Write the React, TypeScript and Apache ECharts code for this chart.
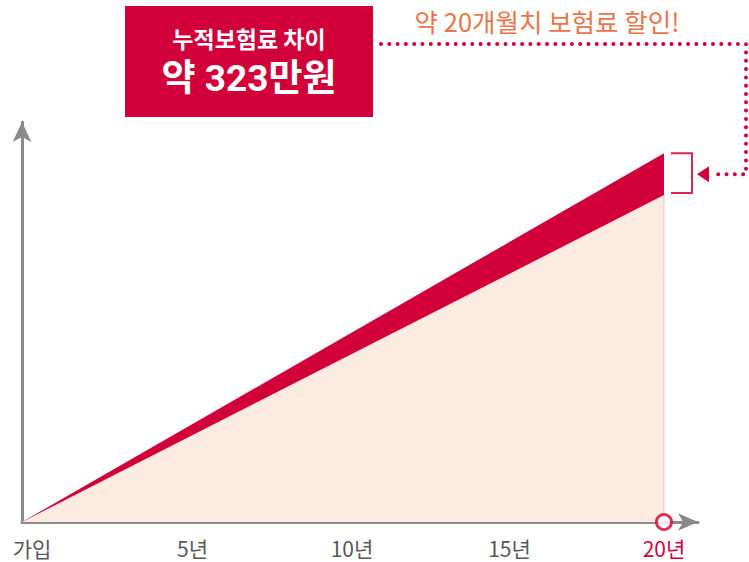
import React, { useEffect, useRef } from "react";
import * as echarts from "echarts";

const years = [0, 20];
const withoutDiscount = [0, 2840];
const withDiscount = [0, 2517];
const tickValues = [0, 5, 10, 15, 20];
const tickLabels = ["가입", "5년", "10년", "15년", "20년"];
const boxTitle = "누적보험료 차이";
const boxValue = "약 323만원";
const note = "약 20개월치 보험료 할인!";

const RED = "#D1003A";
const FONT = "Roboto, 'Noto Sans CJK KR', sans-serif";
const KFONT = "'Noto Sans CJK KR', Roboto, sans-serif";

export default function App() {
  const ref = useRef<HTMLDivElement>(null);
  useEffect(() => {
    if (!ref.current) return;
    const chart = echarts.init(ref.current, null, { renderer: "svg" });
    const richStyles: any = {};
    const pads = [20, 20, 18, 12, 0];
    tickLabels.forEach((_, i) => {
      richStyles["t" + i] = {
        fontSize: 21,
        fontFamily: KFONT,
        color: i === tickLabels.length - 1 ? RED : "#585858",
        padding: [0, 0, 0, pads[i]],
      };
    });
    chart.setOption({
      animation: false,
      grid: { left: 22, right: 51, top: 122, bottom: 40 },
      xAxis: {
        type: "value",
        min: 0,
        max: 21.06,
        interval: 5,
        splitLine: { show: false },
        axisTick: { show: false },
        axisLine: {
          lineStyle: { color: "#8a8a8a", width: 3 },
          symbol: ["none", "arrow"],
          symbolSize: [13, 20],
        },
        axisLabel: {
          showMaxLabel: false,
          margin: 15,
          formatter: (v: number) => {
            const i = tickValues.indexOf(v);
            return i >= 0 ? `{t${i}|${tickLabels[i]}}` : "";
          },
          rich: richStyles,
        },
      },
      yAxis: {
        type: "value",
        min: 0,
        max: 3080,
        splitLine: { show: false },
        axisTick: { show: false },
        axisLabel: { show: false },
        axisLine: {
          show: true,
          lineStyle: { color: "#8a8a8a", width: 3 },
          symbol: ["none", "arrow"],
          symbolSize: [14, 20],
        },
      },
      series: [
        {
          type: "line",
          data: years.map((y, i) => [y, withoutDiscount[i]]),
          symbol: "none",
          lineStyle: { width: 0 },
          areaStyle: { color: RED, opacity: 1 },
          z: 1,
        },
        {
          type: "line",
          data: years.map((y, i) => [y, withDiscount[i]]),
          symbol: "none",
          lineStyle: { width: 0 },
          areaStyle: { color: "#FCEBE1", opacity: 1 },
          z: 2,
        },
        {
          type: "scatter",
          data: [[years[years.length - 1], 0]],
          symbol: "circle",
          symbolSize: 15,
          clip: false,
          itemStyle: { color: "#fff", borderColor: RED, borderWidth: 3 },
          z: 10,
        },
      ],
    });

    const last = years.length - 1;
    const pTop = chart.convertToPixel({ gridIndex: 0 }, [years[last], withoutDiscount[last]]);
    const pLow = chart.convertToPixel({ gridIndex: 0 }, [years[last], withDiscount[last]]);
    const pBase = chart.convertToPixel({ gridIndex: 0 }, [years[last], 0]);
    const x20 = pTop[0];
    const midY = (pTop[1] + pLow[1]) / 2;

    chart.setOption({
      graphic: [
        {
          type: "line",
          shape: { x1: x20, y1: pLow[1], x2: x20, y2: pBase[1] - 7 },
          style: { stroke: "#F4BFCB", lineWidth: 1 },
          z: 5,
        },
        {
          type: "polyline",
          shape: {
            points: [
              [x20 + 7, pTop[1]],
              [x20 + 28, pTop[1]],
              [x20 + 28, pLow[1] - 2],
              [x20 + 7, pLow[1] - 2],
            ],
          },
          style: { stroke: "#DC2452", lineWidth: 2, fill: null },
          z: 5,
        },
        {
          type: "polygon",
          shape: {
            points: [
              [x20 + 33, midY],
              [x20 + 45, midY - 8],
              [x20 + 45, midY + 8],
            ],
          },
          style: { fill: RED },
          z: 5,
        },
        {
          type: "polyline",
          shape: {
            points: [
              [381, 44],
              [746, 44],
              [746, midY],
              [713, midY],
            ],
          },
          style: {
            stroke: RED,
            lineWidth: 4,
            lineDash: [0, 8.3],
            lineCap: "round",
            fill: null,
          },
          z: 5,
        },
        {
          type: "rect",
          shape: { x: 125, y: 6, width: 248, height: 111 },
          style: { fill: RED },
          z: 5,
        },
        {
          type: "text",
          x: 249,
          y: 38,
          style: {
            text: boxTitle,
            fill: "#fff",
            fontSize: 23,
            fontWeight: "bold",
            fontFamily: KFONT,
            align: "center",
            verticalAlign: "middle",
          },
          z: 6,
        },
        {
          type: "text",
          x: 249,
          y: 78,
          style: {
            text: boxValue,
            fill: "#fff",
            fontSize: 37,
            fontWeight: "bold",
            fontFamily: FONT,
            align: "center",
            verticalAlign: "middle",
          },
          z: 6,
        },
        {
          type: "text",
          x: 547,
          y: 20,
          style: {
            text: note,
            fill: "#E8764A",
            fontSize: 25.5,
            fontFamily: KFONT,
            align: "center",
            verticalAlign: "middle",
          },
          z: 6,
        },
      ],
    });
    return () => chart.dispose();
  }, []);
  return (
    <div
      ref={ref}
      style={{ position: "absolute", left: 0, top: 0, width: 749, height: 562 }}
    />
  );
}
